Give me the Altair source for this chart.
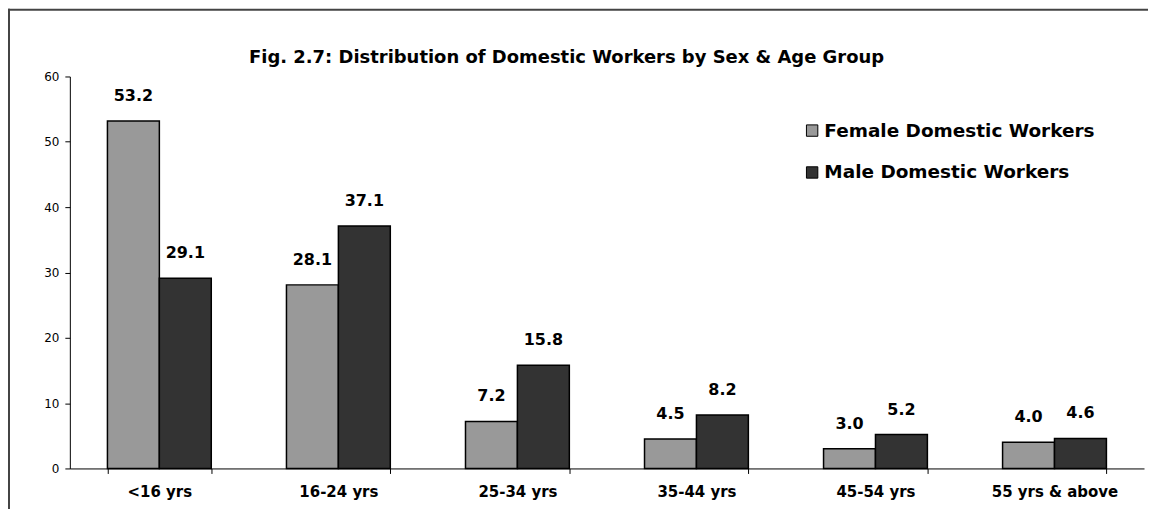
import altair as alt
import pandas as pd

categories = ["<16 yrs", "16-24 yrs", "25-34 yrs", "35-44 yrs", "45-54 yrs", "55 yrs & above"]
female = [53.2, 28.1, 7.2, 4.5, 3.0, 4.0]
male = [29.1, 37.1, 15.8, 8.2, 5.2, 4.6]
series = ["Female Domestic Workers", "Male Domestic Workers"]
colors = ["#999999", "#333333"]
title_text = "Fig. 2.7: Distribution of Domestic Workers by Sex & Age Group"

rows = []
for c, f, m in zip(categories, female, male):
    rows.append({"cat": c, "series": series[0], "value": f, "label": f"{f:.1f}"})
    rows.append({"cat": c, "series": series[1], "value": m, "label": f"{m:.1f}"})
df = pd.DataFrame(rows)

W, H = 1077, 393
BOLD = "DejaVu Sans"

xscale = alt.Scale(domain=categories, paddingInner=0.42, paddingOuter=0.21)
xoff = alt.Scale(domain=series, paddingInner=0, paddingOuter=0)
yscale = alt.Scale(domain=[0, 60], nice=False)

base = alt.Chart(df).encode(
    x=alt.X("cat:N", scale=xscale, sort=categories,
            axis=alt.Axis(title=None, labelAngle=0, tickBand="extent", ticks=True,
                          tickSize=5, tickColor="#000", domainColor="#000",
                          labelFont=BOLD, labelFontSize=15, labelFontWeight="bold",
                          labelColor="#000", labelPadding=11, labelLimit=0)),
    xOffset=alt.XOffset("series:N", scale=xoff, sort=series),
)

bars = base.mark_bar(stroke="#000", strokeWidth=1.5).encode(
    y=alt.Y("value:Q", scale=yscale,
            axis=alt.Axis(title=None, values=[0, 10, 20, 30, 40, 50, 60], grid=False,
                          tickSize=5, tickColor="#000", domainColor="#000",
                          labelFont="DejaVu Sans", labelFontSize=12, labelColor="#000",
                          labelPadding=6)),
    color=alt.Color("series:N", sort=series,
                    scale=alt.Scale(domain=series, range=colors),
                    legend=alt.Legend(title=None, orient="none", legendX=735, legendY=45,
                                      symbolType="square", symbolSize=130,
                                      symbolStrokeColor="#000", symbolStrokeWidth=1,
                                      labelFont=BOLD, labelFontSize=18.5,
                                      labelFontWeight="bold", labelColor="#000",
                                      labelOffset=3, rowPadding=23, labelLimit=0)),
)

labels = base.mark_text(font=BOLD, fontSize=16, fontWeight="bold", color="#000",
                        baseline="middle", dy=-25).encode(
    y=alt.Y("value:Q", scale=yscale),
    text="label:N",
)

title_df = pd.DataFrame({"t": [title_text]})
title = alt.Chart(title_df).mark_text(font=BOLD, fontSize=18, fontWeight="bold",
                                      color="#000", align="center", baseline="middle").encode(
    x=alt.value(498), y=alt.value(-19), text="t:N")

border_top = alt.Chart(title_df).mark_rule(color="#444", strokeWidth=2).encode(
    x=alt.value(-62), x2=alt.value(W + 10), y=alt.value(-67))
border_left = alt.Chart(title_df).mark_rule(color="#444", strokeWidth=2).encode(
    x=alt.value(-61), y=alt.value(-68), y2=alt.value(H + 60))

chart = alt.layer(bars, labels, title, border_top, border_left).properties(
    width=W, height=H,
    autosize=alt.AutoSizeParams(type="none"),
    padding={"left": 62, "top": 68, "right": 4, "bottom": 40},
    background="white",
).configure_view(stroke="transparent", strokeWidth=0)

chart.save("out.html", embed_options={"renderer": "svg", "actions": False})
